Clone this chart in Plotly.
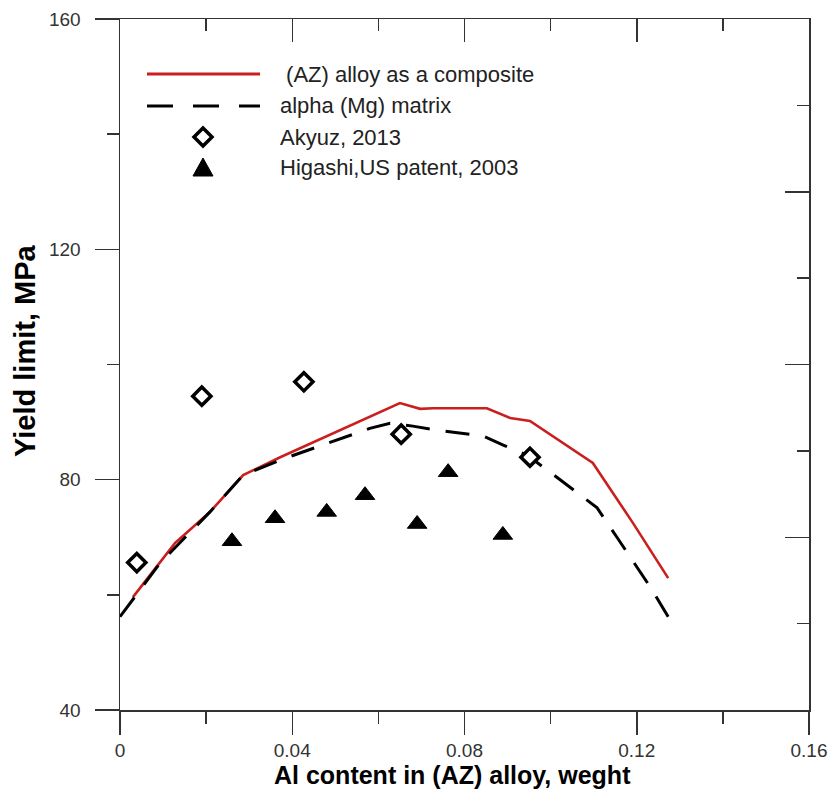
import plotly.graph_objects as go

# ---------------- data ----------------
x_composite = [0.003, 0.0128, 0.0209, 0.0286, 0.0372, 0.0448, 0.0564, 0.0627, 0.065,
               0.0697, 0.0727, 0.0852, 0.0906, 0.0952, 0.1098, 0.1191, 0.1273]
y_composite = [59.6, 69.0, 74.4, 80.8, 83.9, 86.5, 90.4, 92.6, 93.3,
               92.3, 92.4, 92.4, 90.7, 90.2, 82.9, 72.5, 62.9]

x_matrix = [0.0, 0.0093, 0.0209, 0.0286, 0.0379, 0.048, 0.058, 0.0627, 0.068,
            0.0736, 0.0843, 0.089, 0.0945, 0.1029, 0.1108, 0.1154, 0.1231, 0.1273]
y_matrix = [56.2, 65.5, 74.4, 80.8, 83.6, 86.3, 88.9, 89.8, 89.3,
            88.6, 87.6, 86.0, 84.3, 79.6, 75.1, 70.0, 61.4, 56.2]

x_akyuz = [0.0039, 0.019, 0.0427, 0.0653, 0.0952]
y_akyuz = [65.6, 94.5, 97.0, 87.9, 83.9]

x_higashi = [0.026, 0.036, 0.048, 0.0569, 0.069, 0.0762, 0.0889]
y_higashi = [69.3, 73.3, 74.4, 77.3, 72.3, 81.3, 70.4]

x_tickvals = [0, 0.04, 0.08, 0.12, 0.16]
x_ticktext = ["0", "0.04", "0.08", "0.12", "0.16"]
y_tickvals = [40, 80, 120, 160]
y_ticktext = ["40", "80", "120", "160"]

legend_labels = [" (AZ) alloy as a composite", "alpha (Mg) matrix",
                 "Akyuz, 2013", "Higashi,US patent, 2003"]

x_title = "Al content in (AZ) alloy, weght"
y_title = "Yield limit, MPa"

# ---------------- styling / layout ----------------
W, H = 829, 794
L, R, T, B = 120, 20, 19, 84
PW, PH = W - L - R, H - T - B
RED = "#c9201f"
AXC = "#333333"
FONT = "Liberation Sans, Arial, sans-serif"


def px(xp):
    """page pixel x -> paper fraction"""
    return (xp - L) / PW


def py(yp):
    """page pixel y -> paper fraction"""
    return (H - B - yp) / PH


fig = go.Figure()

fig.add_trace(go.Scatter(x=x_composite, y=y_composite, mode="lines",
                         line=dict(color=RED, width=2.6), name=legend_labels[0]))
fig.add_trace(go.Scatter(x=x_matrix, y=y_matrix, mode="lines",
                         line=dict(color="black", width=3, dash="24px,16px"),
                         name=legend_labels[1]))
fig.add_trace(go.Scatter(x=x_akyuz, y=y_akyuz, mode="markers",
                         marker=dict(symbol="diamond", size=14, color="white",
                                     line=dict(color="black", width=3.5)),
                         name=legend_labels[2]))
fig.add_trace(go.Scatter(x=x_higashi, y=y_higashi, mode="markers",
                         marker=dict(symbol="triangle-up", size=17, color="black",
                                     line=dict(color="black", width=1)),
                         name=legend_labels[3]))
# empty trace so that the mirrored top/right frame axes get drawn
fig.add_trace(go.Scatter(x=[], y=[], xaxis="x2", yaxis="y2", mode="lines",
                         showlegend=False, hoverinfo="skip"))

axis_common = dict(showgrid=False, zeroline=False, showline=True,
                   linecolor=AXC, linewidth=1.5, tickcolor=AXC, tickwidth=1.5)

fig.update_layout(
    width=W, height=H,
    margin=dict(l=L, r=R, t=T, b=B, pad=0, autoexpand=False),
    paper_bgcolor="white", plot_bgcolor="white",
    showlegend=False,
    font=dict(family=FONT, size=19, color=AXC),
    xaxis=dict(range=[0, 0.16], tickvals=x_tickvals, ticktext=x_ticktext,
               ticks="outside", ticklen=23, automargin=False,
               minor=dict(ticks="outside", ticklen=12, dtick=0.02, tick0=0,
                          tickcolor=AXC, tickwidth=1.5, showgrid=False),
               tickfont=dict(size=19, color=AXC, family=FONT),
               **axis_common),
    yaxis=dict(range=[40, 160], tickvals=y_tickvals, ticktext=y_ticktext,
               ticks="outside", ticklen=24, ticklabelstandoff=10, automargin=False,
               minor=dict(ticks="outside", ticklen=12, dtick=20, tick0=0,
                          tickcolor=AXC, tickwidth=1.5, showgrid=False),
               tickfont=dict(size=19, color=AXC, family=FONT),
               **axis_common),
    xaxis2=dict(overlaying="x", side="top", range=[0, 0.16], dtick=0.04, tick0=0,
                ticks="inside", ticklen=23, showticklabels=False, automargin=False,
                minor=dict(ticks="inside", ticklen=12, dtick=0.02, tick0=0,
                           tickcolor=AXC, tickwidth=1.5, showgrid=False),
                **axis_common),
    yaxis2=dict(overlaying="y", side="right", range=[0, 8], dtick=2, tick0=0,
                ticks="inside", ticklen=24, showticklabels=False, automargin=False,
                minor=dict(ticks="inside", ticklen=12, dtick=1, tick0=0,
                           tickcolor=AXC, tickwidth=1.5, showgrid=False),
                **axis_common),
)

# axis titles
fig.add_annotation(text=f"<b>{x_title}</b>", xref="paper", yref="paper",
                   x=px(452), y=py(775), showarrow=False,
                   font=dict(size=25, color="black", family=FONT),
                   xanchor="center", yanchor="middle")
fig.add_annotation(text=f"<b>{y_title}</b>", xref="paper", yref="paper",
                   x=px(25), y=py(351), showarrow=False, textangle=-90,
                   font=dict(size=29, color="black", family=FONT),
                   xanchor="center", yanchor="middle")

# ---------------- manual legend ----------------
rows_y = [74, 106, 137, 168]
text_x = 278
fig.add_shape(type="line", xref="paper", yref="paper",
              x0=px(147), x1=px(260), y0=py(rows_y[0]), y1=py(rows_y[0]),
              line=dict(color=RED, width=3))
fig.add_shape(type="line", xref="paper", yref="paper",
              x0=px(147), x1=px(260), y0=py(rows_y[1]), y1=py(rows_y[1]),
              line=dict(color="black", width=3, dash="26px,20px"))
fig.add_shape(type="path", xref="paper", yref="paper",
              xsizemode="pixel", ysizemode="pixel",
              xanchor=px(203), yanchor=py(rows_y[2]),
              path="M 0,9 L 9,0 L 0,-9 L -9,0 Z",
              fillcolor="white", line=dict(color="black", width=3.5))
fig.add_shape(type="path", xref="paper", yref="paper",
              xsizemode="pixel", ysizemode="pixel",
              xanchor=px(203), yanchor=py(rows_y[3]),
              path="M -10,-8 L 10,-8 L 0,10 Z",
              fillcolor="black", line=dict(color="black", width=1))
for lbl, ry in zip(legend_labels, rows_y):
    fig.add_annotation(text=lbl, xref="paper", yref="paper",
                       x=px(text_x), y=py(ry), showarrow=False,
                       xanchor="left", yanchor="middle",
                       font=dict(size=22, color="#222222", family=FONT))

page_css = ("document.body.style.margin='0';"
            "document.body.style.padding='0';"
            "document.body.style.overflow='hidden';")
fig.write_html("out.html", post_script=page_css,
               config={"displayModeBar": False, "staticPlot": True})
